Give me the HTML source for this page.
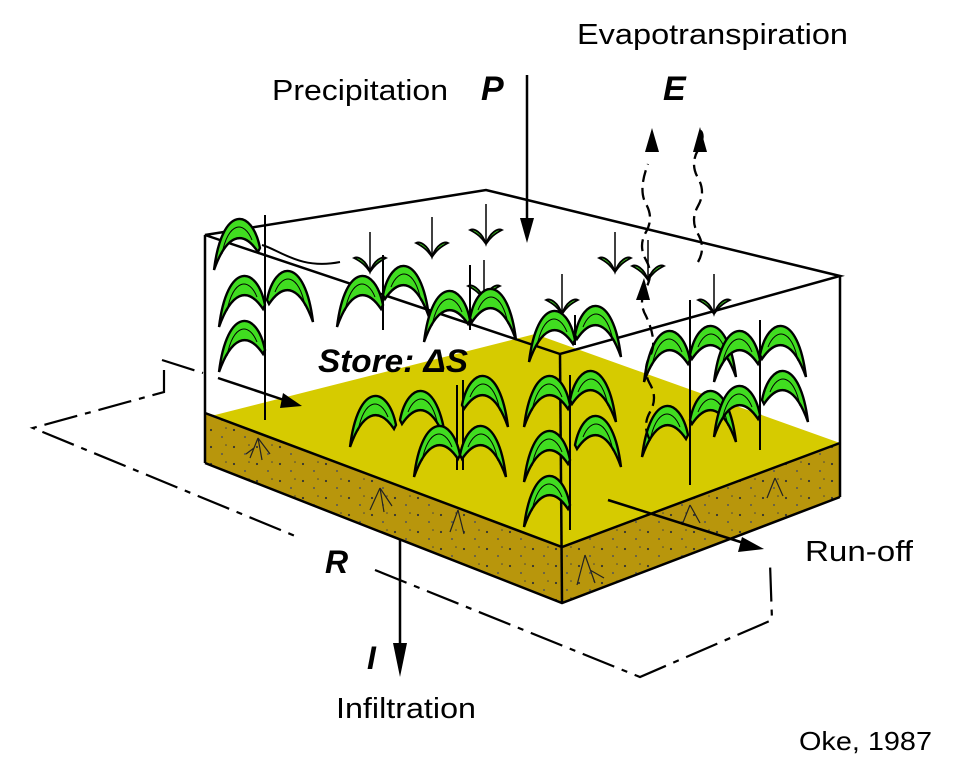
<!DOCTYPE html>
<html><head><meta charset="utf-8"><style>
html,body{margin:0;padding:0;background:#fff;overflow:hidden;}
svg{display:block;}
text{font-family:"Liberation Sans",sans-serif;}
</style></head><body>
<svg width="971" height="775" viewBox="0 0 971 775" xmlns="http://www.w3.org/2000/svg">
<defs>
<pattern id="dots" width="23" height="17" patternUnits="userSpaceOnUse">
<circle cx="4" cy="5" r="1.1" fill="#333"/><circle cx="15" cy="12" r="1" fill="#555"/><circle cx="19" cy="3" r="0.8" fill="#444"/>
</pattern>
<g id="lr">
<path d="M0,0 C8,-40 38,-44 46,22 C34,-12 18,-20 2,4 Z" fill="#40dd20" stroke="#000" stroke-width="2.4"/>
<path d="M8,-8 C16,-28 32,-26 38,6" fill="none" stroke="#000" stroke-width="1"/>
</g>
<g id="ll">
<path d="M0,0 C-8,-40 -38,-44 -46,22 C-34,-12 -18,-20 -2,4 Z" fill="#40dd20" stroke="#000" stroke-width="2.4"/>
<path d="M-8,-8 C-16,-28 -32,-26 -38,6" fill="none" stroke="#000" stroke-width="1"/>
</g>
<g id="v">
<path d="M0,-38 V2" stroke="#000" stroke-width="1.5"/>
<path d="M0,2 C-4,-10 -12,-14 -16,-12 C-8,-8 -4,-4 0,2 C4,-4 8,-8 16,-12 C12,-14 4,-10 0,2Z" fill="#40dd20" stroke="#000" stroke-width="1.8"/>
</g>
</defs>

<!-- soil -->
<polygon points="205,413 562,547 562,603 205,463" fill="#b8960c"/>
<polygon points="562,547 840,443 840,497 562,603" fill="#b8960c"/>
<polygon points="205,413 562,547 562,603 205,463" fill="url(#dots)"/>
<polygon points="562,547 840,443 840,497 562,603" fill="url(#dots)"/>
<polygon points="215,415 535,334 840,443 562,547 205,413" fill="#d6cb00"/>
<g stroke="#000" stroke-width="2.5" fill="none">
<polyline points="205,413 562,547 840,443"/>
<polyline points="205,463 562,603 840,497"/>
</g>
<!-- roots -->
<g stroke="#222" stroke-width="1.2" fill="none">
<path d="M258,438 l-8,20 M258,438 l4,22 M258,438 l12,16 M254,448 l-8,6"/>
<path d="M380,488 l-10,22 M380,488 l4,24 M380,488 l12,18"/>
<path d="M458,510 l-8,22 M458,510 l6,24"/>
<path d="M585,555 l-8,30 M585,555 l10,28 M590,570 l14,8"/>
<path d="M690,505 l-8,20 M690,505 l10,18"/>
<path d="M775,478 l-8,20 M775,478 l8,18"/>
</g>

<!-- dash-dot loop -->
<g stroke="#000" stroke-width="2.2" fill="none" stroke-dasharray="34,8,6,8">
<polyline points="162,360 203,373"/>
<polyline points="164,370 164,392 33,428 300,538"/>
<polyline points="375,570 640,677 772,620 770,563"/>
</g>

<!-- box -->
<g stroke="#000" stroke-width="2.5" fill="none">
<polygon points="205,235 486,190 840,276 560,354"/>
<line x1="205" y1="235" x2="205" y2="463"/>
<line x1="560" y1="354" x2="562" y2="603"/>
<line x1="840" y1="276" x2="840" y2="497"/>
</g>

<!-- sprouts -->
<use href="#v" x="370" y="270"/>
<use href="#v" x="432" y="255"/>
<use href="#v" x="486" y="242"/>
<use href="#v" x="484" y="298"/>
<use href="#v" x="562" y="312"/>
<use href="#v" x="615" y="270"/>
<use href="#v" x="714" y="312"/>
<use href="#v" x="648" y="278"/>

<!-- plants -->
<g stroke="#000" stroke-width="2" fill="none">
<path d="M265,420 V215"/><path d="M383,330 V255"/><path d="M470,330 V265"/>
<path d="M575,345 V315"/><path d="M457,470 V385"/><path d="M463,470 V380"/>
<path d="M570,530 V375"/><path d="M690,485 V300"/><path d="M760,450 V320"/>
<path d="M262,245 C280,250 300,270 340,262"/>
</g>
<use href="#ll" x="265" y="305"/><use href="#lr" x="267" y="300"/><use href="#ll" x="265" y="350"/>
<use href="#ll" x="260" y="248"/>
<use href="#ll" x="383" y="305"/><use href="#lr" x="383" y="295"/>
<use href="#ll" x="470" y="320"/><use href="#lr" x="470" y="318"/>
<use href="#ll" x="575" y="340"/><use href="#lr" x="575" y="335"/>
<use href="#ll" x="396" y="425"/><use href="#lr" x="400" y="420"/>
<use href="#ll" x="460" y="455"/><use href="#lr" x="460" y="455"/><use href="#lr" x="462" y="405"/>
<use href="#ll" x="570" y="405"/><use href="#lr" x="570" y="400"/><use href="#ll" x="570" y="460"/><use href="#lr" x="575" y="445"/><use href="#ll" x="570" y="505"/>
<use href="#ll" x="690" y="360"/><use href="#lr" x="690" y="355"/><use href="#ll" x="688" y="435"/><use href="#lr" x="690" y="420"/>
<use href="#ll" x="760" y="360"/><use href="#lr" x="760" y="355"/><use href="#ll" x="760" y="415"/><use href="#lr" x="762" y="400"/>

<!-- P arrow -->
<line x1="527" y1="75" x2="527" y2="225" stroke="#000" stroke-width="2.5"/>
<polygon points="520,218 534,218 527,243" fill="#000"/>

<!-- E wavy arrows -->
<g stroke="#000" stroke-width="2.3" fill="none" stroke-dasharray="12,6">
<path d="M650,440 q-8,-14 0,-28 q8,-14 0,-28 q-8,-14 0,-28 q8,-14 -4,-40 q-8,-14 0,-28 q8,-14 0,-28 q-8,-14 0,-28 q8,-14 0,-28 q-8,-14 2,-40"/>
<path d="M698,262 q8,-14 0,-28 q-8,-14 0,-28 q8,-14 0,-28 q-8,-14 0,-28 q8,-14 2,-20"/>
</g>
<polygon points="645,152 659,152 652,128" fill="#000"/>
<polygon points="693,152 707,152 700,127" fill="#000"/>
<polygon points="636,300 650,300 644,278" fill="#000"/>

<!-- inflow, runoff, infiltration -->
<line x1="218" y1="378" x2="290" y2="402" stroke="#000" stroke-width="2.5"/>
<polygon points="283,393 302,406 280,408" fill="#000"/>
<line x1="608" y1="500" x2="750" y2="545" stroke="#000" stroke-width="2.5"/>
<polygon points="742,537 764,549 738,552" fill="#000"/>
<line x1="400" y1="540" x2="400" y2="650" stroke="#000" stroke-width="2.5"/>
<polygon points="393,643 407,643 400,677" fill="#000"/>

<!-- labels -->
<text x="577" y="44" font-size="29" textLength="271" lengthAdjust="spacingAndGlyphs">Evapotranspiration</text>
<text x="272" y="100" font-size="29" textLength="176" lengthAdjust="spacingAndGlyphs">Precipitation</text>
<text x="481" y="100" font-size="34" font-weight="bold" font-style="italic">P</text>
<text x="663" y="100" font-size="34" font-weight="bold" font-style="italic">E</text>
<text x="318" y="372" font-size="32" font-style="italic" font-weight="bold" textLength="150" lengthAdjust="spacingAndGlyphs">Store:  ΔS</text>
<text x="325" y="573" font-size="32" font-weight="bold" font-style="italic">R</text>
<text x="805" y="561" font-size="29" textLength="108" lengthAdjust="spacingAndGlyphs">Run-off</text>
<text x="367" y="669" font-size="32" font-weight="bold" font-style="italic">I</text>
<text x="336" y="718" font-size="29" textLength="140" lengthAdjust="spacingAndGlyphs">Infiltration</text>
<text x="799" y="750" font-size="26" textLength="133" lengthAdjust="spacingAndGlyphs">Oke, 1987</text>
</svg>
</body></html>
